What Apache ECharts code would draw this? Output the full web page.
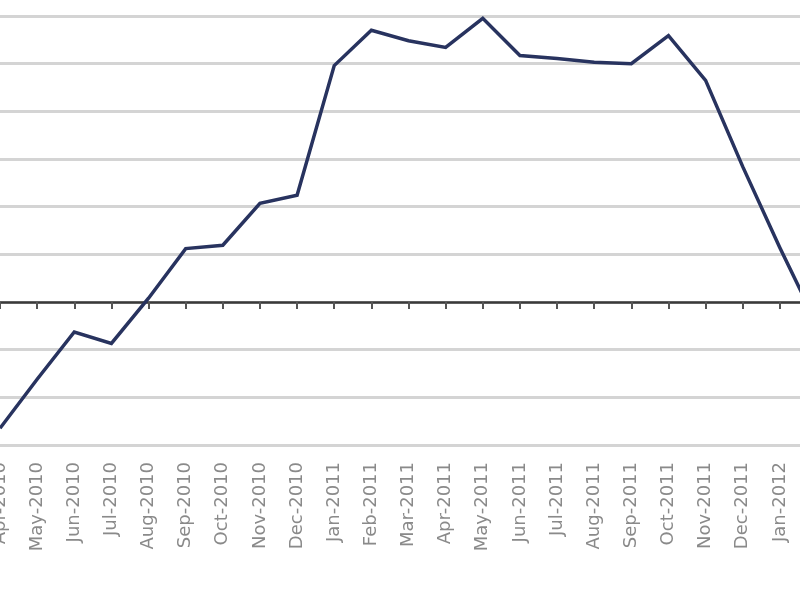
<!DOCTYPE html>
<html>
<head>
<meta charset="utf-8">
<script src="https://cdn.jsdelivr.net/npm/echarts@6/dist/echarts.min.js"></script>
<style>
  html, body { margin: 0; padding: 0; background: #ffffff; }
  #chart { width: 800px; height: 600px; }
</style>
</head>
<body>
<div id="chart"></div>
<script>
const categories = [
  'Apr-2010', 'May-2010', 'Jun-2010', 'Jul-2010', 'Aug-2010', 'Sep-2010',
  'Oct-2010', 'Nov-2010', 'Dec-2010', 'Jan-2011', 'Feb-2011', 'Mar-2011',
  'Apr-2011', 'May-2011', 'Jun-2011', 'Jul-2011', 'Aug-2011', 'Sep-2011',
  'Oct-2011', 'Nov-2011', 'Dec-2011', 'Jan-2012', 'Feb-2012'
];
const values = [
  -2.65, -1.62, -0.63, -0.87, 0.08, 1.12,
  1.19, 2.07, 2.24, 4.96, 5.7, 5.48,
  5.34, 5.95, 5.17, 5.11, 5.03, 5.0,
  5.59, 4.65, 2.84, 1.14, -0.47
];
const yMin = -3;
const yMax = 6;
const yStep = 1;

const chart = echarts.init(document.getElementById('chart'), null, { renderer: 'canvas' });
chart.setOption({
  backgroundColor: '#ffffff',
  animation: false,
  grid: { left: 0, right: -17, top: 16, bottom: 155, containLabel: false, outerBoundsMode: 'none' },
  xAxis: [
    {
      type: 'category',
      data: categories,
      boundaryGap: false,
      position: 'bottom',
      axisLine: { show: false, onZero: false },
      axisTick: { show: false },
      splitLine: { show: false },
      axisLabel: {
        interval: 0,
        rotate: 90,
        margin: 17,
        color: '#8a8a8a',
        fontFamily: 'DejaVu Sans',
        fontSize: 18,
        hideOverlap: false
      }
    },
    {
      type: 'category',
      data: categories,
      boundaryGap: false,
      position: 'bottom',
      axisLine: { show: true, onZero: true, lineStyle: { color: '#3a3a3a', width: 2.5 } },
      axisTick: { show: true, inside: false, length: 7, interval: 0, alignWithLabel: true, lineStyle: { color: '#555555', width: 2 } },
      axisLabel: { show: false },
      splitLine: { show: false }
    }
  ],
  yAxis: {
    type: 'value',
    min: yMin,
    max: yMax,
    interval: yStep,
    axisLine: { show: false },
    axisTick: { show: false },
    axisLabel: { show: false },
    splitLine: { show: true, lineStyle: { color: '#d4d4d4', width: 3 } }
  },
  series: [
    {
      type: 'line',
      xAxisIndex: 0,
      data: values,
      symbol: 'none',
      clip: true,
      lineStyle: { color: '#28335f', width: 3.5, join: 'miter' }
    }
  ]
});
</script>
</body>
</html>
